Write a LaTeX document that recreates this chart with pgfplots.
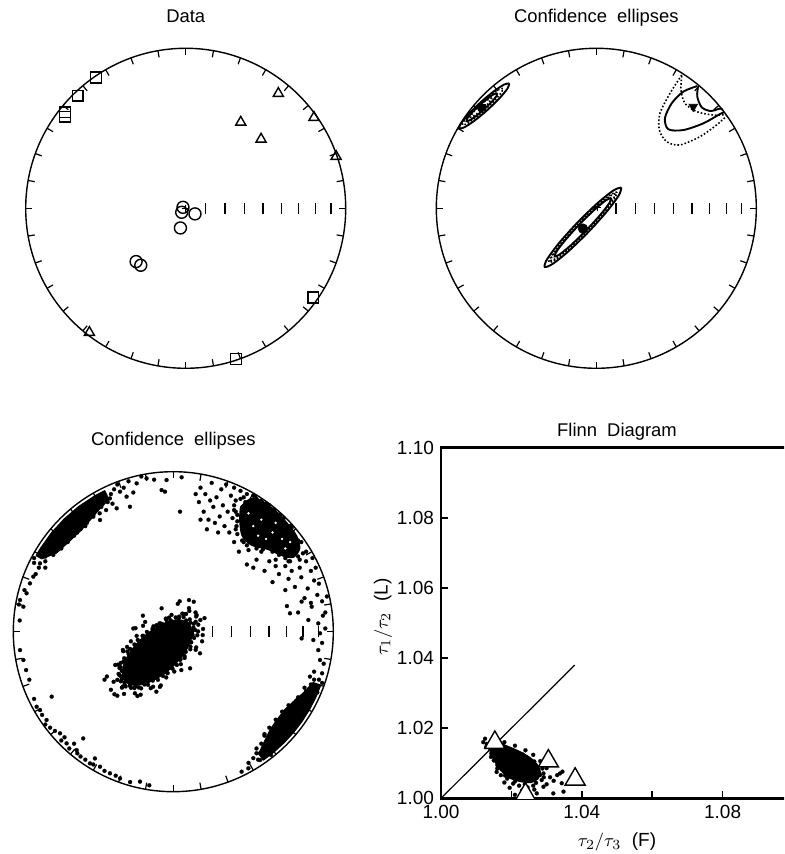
\documentclass[border=0pt]{standalone}
\usepackage{pgfplots}
\pgfplotsset{compat=1.18}
\usepackage{fontspec}
\setmainfont{Liberation Sans}

\pgfplotsset{
  every axis title shift=0pt,
  net/.style={
    width=160pt, height=160pt, scale only axis,
    xmin=-1, xmax=1, ymin=-1, ymax=1,
    hide axis, clip=false, anchor=center,
    title style={at={(0.5,1.082)}, anchor=base, font=\fontsize{9.2}{11}\selectfont},
  },
  dots/.style={only marks, mark=*, mark size=1.0pt,
    mark options={draw=black, fill=black, line width=0.1pt}},
  specks/.style={only marks, mark=*, mark size=0.55pt,
    mark options={draw=white, fill=white, line width=0.1pt}},
  blob/.style={draw=black, fill=black, line width=0.6pt, line join=round},
}
% primitive circle, 10-degree rim ticks and the equal-area inclination scale
\newcommand{\netframe}{%
  \draw[line width=0.7pt] (axis cs:0,0) circle[radius=1];
  \pgfplotsinvokeforeach{0,10,...,350}{%
    \draw[line width=0.6pt] (axis cs:{cos(##1)},{sin(##1)}) -- (axis cs:{0.958*cos(##1)},{0.958*sin(##1)});}
  \pgfplotsinvokeforeach{0.1233,0.2456,0.3660,0.4837,0.5976,0.7071,0.8112,0.9086}{%
    \draw[line width=0.6pt] (axis cs:##1,-0.034) -- (axis cs:##1,0.034);}
}

\begin{document}
\begin{tikzpicture}
\path[use as bounding box] (0,0) rectangle (392pt,427pt);
\clip (0,0) rectangle (392pt,427pt);

% ---------------- Data ----------------
\begin{axis}[net, at={(92.85pt,322.85pt)}, title={Data}]
\netframe
\addplot[only marks, mark=+, mark size=1.8pt, mark options={line width=0.6pt}] coordinates {(0,0)};
\addplot[only marks, mark=square, mark size=2.7pt, mark options={line width=0.7pt}]
  coordinates {(-0.560,0.817) (-0.675,0.704) (-0.754,0.600) (-0.754,0.573) (0.798,-0.558) (0.315,-0.942)};
\addplot[only marks, mark=triangle, mark size=2.9pt, mark options={line width=0.7pt}]
  coordinates {(0.579,0.718) (0.344,0.538) (0.471,0.432) (0.802,0.568) (0.940,0.324) (-0.602,-0.776)};
\addplot[only marks, mark=o, mark size=3pt, mark options={line width=0.7pt}]
  coordinates {(-0.017,0.006) (-0.025,-0.025) (0.058,-0.035) (-0.033,-0.123) (-0.310,-0.333) (-0.281,-0.356)};
\end{axis}

% ---------------- Confidence ellipses ----------------
\begin{axis}[net, at={(298.15pt,322.85pt)}, title={Confidence\hspace{0.55em}ellipses}]
\netframe
% V3 group
\addplot[black, line width=0.95pt, smooth] coordinates {(0.1568,0.1301) (0.1085,0.1126) (0.0088,0.0332) (-0.1154,-0.0867) (-0.2310,-0.2150) (-0.3069,-0.3172) (-0.3228,-0.3661) (-0.2745,-0.3486) (-0.1748,-0.2692) (-0.0506,-0.1493) (0.0650,-0.0210) (0.1409,0.0812) (0.1568,0.1301)};
\addplot[black, line width=0.8pt, densely dotted, smooth] coordinates {(0.1290,0.1013) (0.0876,0.0844) (0.0006,0.0134) (-0.1089,-0.0930) (-0.2114,-0.2060) (-0.2796,-0.2954) (-0.2950,-0.3373) (-0.2536,-0.3204) (-0.1666,-0.2494) (-0.0571,-0.1430) (0.0454,-0.0300) (0.1136,0.0594) (0.1290,0.1013)};
\addplot[black, line width=0.8pt, densely dotted, smooth] coordinates {(0.1186,0.0905) (0.0808,0.0731) (-0.0009,0.0044) (-0.1046,-0.0971) (-0.2025,-0.2042) (-0.2684,-0.2881) (-0.2846,-0.3265) (-0.2468,-0.3091) (-0.1651,-0.2404) (-0.0614,-0.1389) (0.0365,-0.0318) (0.1024,0.0521) (0.1186,0.0905)};
\addplot[black, line width=0.95pt, smooth] coordinates {(0.0942,0.0653) (0.0604,0.0505) (-0.0118,-0.0094) (-0.1031,-0.0985) (-0.1890,-0.1928) (-0.2466,-0.2669) (-0.2602,-0.3013) (-0.2264,-0.2865) (-0.1542,-0.2266) (-0.0629,-0.1375) (0.0230,-0.0432) (0.0806,0.0309) (0.0942,0.0653)};
% V1 group
\addplot[black, line width=0.95pt, smooth] coordinates {(-0.5440,0.7805) (-0.5756,0.7736) (-0.6405,0.7309) (-0.7214,0.6638) (-0.7965,0.5903) (-0.8458,0.5302) (-0.8560,0.4995) (-0.8244,0.5064) (-0.7595,0.5491) (-0.6786,0.6162) (-0.6035,0.6897) (-0.5542,0.7498) (-0.5440,0.7805)};
\addplot[black, line width=0.8pt, densely dotted, smooth] coordinates {(-0.5837,0.7487) (-0.6086,0.7424) (-0.6607,0.7073) (-0.7261,0.6528) (-0.7871,0.5935) (-0.8274,0.5454) (-0.8363,0.5213) (-0.8114,0.5276) (-0.7593,0.5627) (-0.6939,0.6172) (-0.6329,0.6765) (-0.5926,0.7246) (-0.5837,0.7487)};
\addplot[black, line width=0.95pt, smooth] coordinates {(-0.6184,0.7190) (-0.6377,0.7144) (-0.6777,0.6877) (-0.7277,0.6461) (-0.7743,0.6007) (-0.8051,0.5638) (-0.8116,0.5450) (-0.7923,0.5496) (-0.7523,0.5763) (-0.7023,0.6179) (-0.6557,0.6633) (-0.6249,0.7002) (-0.6184,0.7190)};
\addplot[black, line width=0.8pt, densely dotted, smooth] coordinates {(-0.6531,0.6902) (-0.6946,0.6691) (-0.7616,0.6089) (-0.7869,0.5698) (-0.7454,0.5909) (-0.6784,0.6511) (-0.6531,0.6902)};
% V2 group (cut by the primitive)
\addplot[black, line width=0.8pt, densely dotted, smooth] coordinates {(0.534,0.833) (0.461,0.719) (0.398,0.594) (0.394,0.489) (0.440,0.416) (0.523,0.396) (0.648,0.448) (0.752,0.521) (0.815,0.578)};
\addplot[black, line width=0.95pt, smooth] coordinates {(0.631,0.764) (0.544,0.729) (0.471,0.656) (0.429,0.563) (0.450,0.494) (0.544,0.489) (0.669,0.531) (0.773,0.589) (0.800,0.600)};
\addplot[black, line width=0.8pt, densely dotted, smooth] coordinates {(0.534,0.827) (0.529,0.739) (0.554,0.656) (0.627,0.604) (0.731,0.583) (0.810,0.585)};
\addplot[black, line width=0.95pt, smooth] coordinates {(0.636,0.760) (0.631,0.698) (0.659,0.631) (0.715,0.608) (0.773,0.623) (0.790,0.615)};
% means
\addplot[only marks, mark=square*, mark size=1.6pt] coordinates {(-0.715,0.632)};
\addplot[only marks, mark=triangle*, mark size=2.4pt, mark options={rotate=180}] coordinates {(0.606,0.635)};
\addplot[only marks, mark=*, mark size=2.35pt] coordinates {(-0.0835,-0.127)};
\addplot[only marks, mark=+, mark size=1.8pt, mark options={line width=0.6pt}] coordinates {(0.008,0.006)};
\end{axis}

% ---------------- Bootstrap eigenvectors ----------------
\begin{axis}[net, at={(86.65pt,111.15pt)}, title={Confidence\hspace{0.55em}ellipses}]
\netframe
% dense cores
\addplot[blob, smooth, tension=0.6] coordinates {(0.1006,0.0506) (0.0302,0.0747) (-0.075,0.044) (-0.187,-0.0334) (-0.2756,-0.1366) (-0.3172,-0.2381) (-0.3006,-0.3106) (-0.2302,-0.3347) (-0.125,-0.304) (-0.013,-0.2266) (0.0756,-0.1234) (0.1172,-0.0219) (0.1006,0.0506)};
\addplot[blob, smooth, tension=0.5] coordinates {(0.42,0.78) (0.48,0.83) (0.55,0.82) (0.64,0.755) (0.71,0.68) (0.77,0.60) (0.79,0.52) (0.75,0.465) (0.68,0.475) (0.59,0.515) (0.49,0.54) (0.43,0.60) (0.415,0.70) (0.42,0.78)};
\addplot[blob] coordinates {(-0.857,0.475) (-0.831,0.519) (-0.762,0.617) (-0.681,0.705) (-0.590,0.783) (-0.490,0.849) (-0.429,0.881) (-0.403,0.827) (-0.472,0.755) (-0.553,0.659) (-0.639,0.575) (-0.730,0.492) (-0.822,0.456) (-0.857,0.475)};
\addplot[blob] coordinates {(0.562,-0.803) (0.630,-0.751) (0.693,-0.693) (0.751,-0.630) (0.803,-0.5625) (0.849,-0.49) (0.888,-0.415) (0.921,-0.335) (0.874,-0.318) (0.815,-0.381) (0.753,-0.435) (0.696,-0.488) (0.651,-0.547) (0.608,-0.608) (0.572,-0.682) (0.534,-0.762) (0.562,-0.803)};
% central cluster
\addplot[dots] coordinates {
(0.107,0.056) (0.080,0.070) (0.034,0.083) (-0.015,0.070) (-0.078,0.051) (-0.130,0.018) (-0.192,-0.026) (-0.243,-0.080) (-0.279,-0.140) (-0.312,-0.188) (-0.322,-0.245) (-0.327,-0.280) (-0.305,-0.318) (-0.272,-0.338) (-0.236,-0.343) (-0.180,-0.330) (-0.128,-0.306) (-0.064,-0.277) (-0.012,-0.226) (0.043,-0.176) (0.078,-0.126) (0.112,-0.066) (0.121,-0.021) (0.126,0.026)
(0.103,0.077) (0.064,0.091) (0.015,0.089) (-0.042,0.072) (-0.104,0.041) (-0.165,-0.001) (-0.222,-0.052) (-0.270,-0.108) (-0.307,-0.166) (-0.330,-0.221) (-0.337,-0.271) (-0.328,-0.310) (-0.303,-0.337) (-0.264,-0.351) (-0.215,-0.349) (-0.158,-0.332) (-0.096,-0.301) (-0.035,-0.259) (0.022,-0.208) (0.070,-0.152) (0.107,-0.094) (0.130,-0.039) (0.137,0.010) (0.128,0.050)
(0.140,0.062) (0.080,0.111) (0.056,0.113) (-0.027,0.088) (-0.066,0.046) (-0.124,0.034) (-0.188,-0.026) (-0.265,-0.060) (-0.287,-0.123) (-0.346,-0.206) (-0.342,-0.264) (-0.322,-0.296) (-0.316,-0.343) (-0.298,-0.342) (-0.244,-0.352) (-0.201,-0.354) (-0.126,-0.344) (-0.044,-0.286) (0.006,-0.249) (0.045,-0.171) (0.106,-0.110) (0.110,-0.066) (0.150,-0.022) (0.156,0.044)
(0.139,0.120) (0.064,0.111) (0.036,0.094) (-0.011,0.105) (-0.086,0.052) (-0.189,0.037) (-0.229,-0.026) (-0.315,-0.114) (-0.328,-0.195) (-0.336,-0.227) (-0.350,-0.301) (-0.373,-0.313) (-0.321,-0.350) (-0.308,-0.389) (-0.224,-0.402) (-0.141,-0.353) (-0.078,-0.336) (-0.041,-0.255) (0.047,-0.203) (0.071,-0.164) (0.140,-0.113) (0.184,-0.021) (0.186,0.017) (0.143,0.095)
(0.169,0.073) (0.098,0.147) (-0.047,0.082) (-0.236,0.022) (-0.313,-0.122) (-0.415,-0.280) (-0.350,-0.400) (-0.240,-0.385) (-0.106,-0.375) (-0.005,-0.231) (0.143,-0.098) (0.155,0.002)
(0.128,0.187) (0.028,0.174) (-0.176,0.061) (-0.289,-0.095) (-0.363,-0.208) (-0.390,-0.363) (-0.368,-0.391) (-0.204,-0.394) (-0.084,-0.345) (0.105,-0.229) (0.180,-0.060) (0.195,0.085)
(0.098,0.198) (-0.073,0.146) (0.146,0.104) (0.167,-0.135) (-0.760,-0.406) (0.040,0.190) (-0.190,0.100) (0.100,0.130) (-0.250,0.020) (-0.430,-0.300) (0.050,-0.240)};
% NE cluster
\addplot[dots] coordinates {
(0.17,0.90) (0.20,0.86) (0.16,0.81) (0.19,0.75) (0.22,0.70) (0.25,0.78) (0.27,0.84) (0.30,0.89) (0.24,0.93) (0.33,0.92) (0.29,0.72) (0.32,0.66) (0.35,0.62) (0.31,0.79) (0.36,0.85) (0.38,0.90) (0.37,0.71) (0.21,0.64) (0.14,0.86) (0.26,0.68) (0.34,0.75) (0.28,0.62) (0.23,0.82) (0.17,0.70)
(0.42,0.88) (0.46,0.86) (0.50,0.85) (0.55,0.82) (0.58,0.80) (0.63,0.76) (0.44,0.84) (0.52,0.83)
(0.83,0.50) (0.80,0.56) (0.73,0.66) (0.66,0.73) (0.56,0.80) (0.45,0.81) (0.38,0.76) (0.39,0.64) (0.44,0.56) (0.55,0.50) (0.64,0.45) (0.72,0.44) (0.78,0.47) (0.40,0.69) (0.47,0.51)
(0.38,0.79) (0.39,0.82) (0.42,0.83) (0.51,0.845) (0.53,0.81) (0.60,0.79) (0.67,0.73) (0.69,0.71) (0.74,0.65) (0.78,0.57) (0.81,0.49) (0.79,0.45) (0.73,0.44) (0.70,0.46) (0.66,0.48) (0.62,0.50) (0.56,0.515) (0.52,0.52) (0.46,0.54) (0.43,0.57) (0.40,0.61) (0.395,0.66) (0.40,0.73) (0.39,0.75)
(0.60,0.44) (0.64,0.41) (0.70,0.41) (0.74,0.38) (0.79,0.40) (0.83,0.44) (0.86,0.38) (0.80,0.34) (0.72,0.33) (0.66,0.36) (0.76,0.28) (0.84,0.27) (0.88,0.32) (0.90,0.23) (0.86,0.18) (0.93,0.19) (0.82,0.21) (0.70,0.26) (0.62,0.31) (0.91,0.30) (0.95,0.12) (0.71,0.16) (0.78,0.12) (0.46,0.42) (0.52,0.45) (0.57,0.38) (0.50,0.40) (0.41,0.50) (0.38,0.56) (0.68,0.50) (0.87,0.46) (0.89,0.40) (0.76,0.52)};
\addplot[specks] coordinates {
(0.55,0.70) (0.62,0.62) (0.68,0.58) (0.50,0.66) (0.58,0.58) (0.70,0.52) (0.47,0.74) (0.64,0.68) (0.53,0.60) (0.73,0.56)};
% NW cluster and western rim
\addplot[dots] coordinates {
(-0.396,0.833) (-0.333,0.875) (-0.292,0.844) (-0.229,0.927) (-0.167,0.958) (-0.354,0.771) (-0.271,0.781) (-0.458,0.698) (-0.500,0.719) (-0.604,0.635) (-0.708,0.573) (-0.635,0.604) (-0.073,0.885) (-0.052,0.875) (0.042,0.750) (0.052,0.965) (-0.042,0.948) (-0.31,0.90) (-0.25,0.87) (-0.38,0.80) (-0.42,0.76) (-0.55,0.66) (-0.67,0.58) (-0.75,0.53) (-0.80,0.47) (-0.86,0.36) (-0.45,0.80) (-0.52,0.75) (-0.58,0.70) (-0.63,0.67) (-0.69,0.62) (-0.74,0.59) (-0.78,0.56) (-0.83,0.50) (-0.87,0.43) (-0.35,0.92) (-0.20,0.97) (-0.12,0.95) (-0.28,0.94)
(-0.41,0.81) (-0.45,0.78) (-0.50,0.73) (-0.54,0.68) (-0.58,0.64) (-0.62,0.60) (-0.66,0.56) (-0.70,0.52) (-0.75,0.48) (-0.80,0.44) (-0.84,0.40) (-0.87,0.46) (-0.44,0.84) (-0.46,0.74) (-0.60,0.62) (-0.39,0.86) (-0.37,0.89)
(-0.958,0.198) (-0.896,0.302) (-0.917,0.240) (-0.875,0.344) (-0.937,0.156) (-0.965,0.170) (-0.833,0.427) (-0.80,0.40) (-0.93,0.26) (-0.96,0.07)
(-0.958,-0.115) (-0.937,-0.177) (-0.92,-0.24) (-0.90,-0.30) (-0.854,-0.469) (-0.833,-0.490) (-0.792,-0.552) (-0.77,-0.60) (-0.708,-0.635) (-0.667,-0.698) (-0.604,-0.740) (-0.58,-0.78) (-0.521,-0.823) (-0.458,-0.844) (-0.396,-0.885) (-0.333,-0.917) (-0.27,-0.94) (-0.208,-0.937) (-0.563,-0.667) (-0.49,-0.792) (-0.62,-0.70) (-0.68,-0.66) (-0.74,-0.62) (-0.82,-0.52) (-0.87,-0.42) (-0.80,-0.58) (-0.55,-0.80) (-0.43,-0.87) (-0.36,-0.90) (-0.15,-0.96) (-0.65,-0.73) (-0.50,-0.83) (-0.70,-0.68) (-0.60,-0.76)};
% SE cluster and eastern rim
\addplot[dots] coordinates {
(0.469,-0.854) (0.427,-0.875) (0.542,-0.802) (0.583,-0.688) (0.542,-0.760) (0.52,-0.73) (0.60,-0.72) (0.708,-0.594) (0.66,-0.62) (0.74,-0.52) (0.792,-0.469) (0.78,-0.52) (0.84,-0.40) (0.854,-0.281) (0.88,-0.25) (0.917,-0.177) (0.906,-0.115) (0.875,-0.052) (0.94,-0.20) (0.93,-0.26) (0.62,-0.66) (0.50,-0.79) (0.56,-0.75) (0.47,-0.82) (0.57,-0.64) (0.64,-0.58) (0.71,-0.50) (0.77,-0.43) (0.82,-0.35) (0.86,-0.33) (0.90,-0.38)
(0.88,-0.30) (0.83,-0.37) (0.78,-0.41) (0.72,-0.46) (0.68,-0.50) (0.64,-0.55) (0.60,-0.60) (0.57,-0.65) (0.55,-0.70) (0.52,-0.76) (0.53,-0.80) (0.91,-0.30) (0.93,-0.32) (0.89,-0.34) (0.61,-0.77)
(0.844,0.073) (0.906,0.052) (0.802,-0.042) (0.917,-0.010) (0.935,0.10) (0.802,0.188) (0.865,0.156) (0.729,0.115) (0.95,0.02) (0.93,-0.07) (0.96,0.22)};
\end{axis}

% ---------------- Flinn diagram ----------------
\begin{axis}[
  at={(220.5pt,27.85pt)}, anchor=south west,
  width=176pt, height=175.3pt, scale only axis,
  xmin=1, xmax=1.1, ymin=1, ymax=1.1,
  axis line style={line width=1.4pt},
  tick style={line width=0.8pt, black},
  major tick length=3.4pt, tick align=inside,
  xtick pos=bottom, ytick pos=left,
  xtick={1,1.02,1.04,1.06,1.08,1.1}, xticklabels={1.00,,1.04,,1.08,},
  ytick={1,1.02,1.04,1.06,1.08,1.1}, yticklabels={1.00,1.02,1.04,1.06,1.08,1.10},
  ticklabel style={font=\fontsize{9.5}{11}\selectfont},
  label style={font=\fontsize{9.5}{11}\selectfont},
  xlabel={$\tau_2/\tau_3$\ \ (F)}, ylabel={$\tau_1/\tau_2$\ \ (L)},
  xlabel style={at={(axis description cs:0.5,-0.125)}, anchor=center},
  ylabel style={at={(axis description cs:-0.165,0.517)}, anchor=center},
  title={Flinn\hspace{0.55em}Diagram},
  title style={at={(0.5,1.032)}, anchor=base, font=\fontsize{9.2}{11}\selectfont},
  clip marker paths=true,
]
\addplot[black, line width=0.6pt] coordinates {(1,1) (1.038,1.038)};
\addplot[blob, smooth, tension=0.5] coordinates {(1.0135,1.0160) (1.0160,1.0160) (1.0190,1.0148) (1.0220,1.0135) (1.0250,1.0118) (1.0272,1.0098) (1.0282,1.0075) (1.0275,1.0055) (1.0255,1.0045) (1.0225,1.0048) (1.0195,1.0058) (1.0170,1.0080) (1.0150,1.0110) (1.0138,1.0138) (1.0135,1.0160)};
\addplot[dots] coordinates {
(1.0125,1.0170) (1.0130,1.0155) (1.0143,1.0128) (1.0150,1.0108) (1.0160,1.0095) (1.0172,1.0083) (1.0170,1.0066) (1.0188,1.0056) (1.0205,1.0042) (1.0222,1.0036) (1.0246,1.0031) (1.0262,1.0036) (1.0286,1.0052) (1.0291,1.0071) (1.0300,1.0086) (1.0282,1.0106) (1.0262,1.0124) (1.0240,1.0137) (1.0210,1.0150) (1.0180,1.0160) (1.0155,1.0166) (1.0320,1.0050) (1.0330,1.0066) (1.0345,1.0076) (1.0338,1.0071) (1.0343,1.0043) (1.0319,1.0014) (1.0348,1.0019) (1.0281,1.0066) (1.0291,1.0033) (1.0272,1.0014) (1.0210,1.0010) (1.0250,1.0015) (1.0230,1.0022) (1.0195,1.0030) (1.0180,1.0045) (1.0140,1.0140) (1.0120,1.0160) (1.0300,1.0040) (1.0310,1.0060)
(1.0145,1.0150) (1.0168,1.0140) (1.0200,1.0138) (1.0232,1.0125) (1.0265,1.0105) (1.0288,1.0085) (1.0292,1.0060) (1.0270,1.0044) (1.0238,1.0040) (1.0210,1.0048) (1.0182,1.0065) (1.0160,1.0085) (1.0142,1.0118) (1.0128,1.0146) (1.0158,1.0075) (1.0265,1.0025)};
\addplot[only marks, mark=triangle*, mark size=5.8pt, mark options={draw=black, fill=white, line width=0.7pt}]
  coordinates {(1.0153,1.0159) (1.0305,1.0106) (1.0381,1.0054) (1.0240,1.0011)};
\end{axis}
\end{tikzpicture}
\end{document}
